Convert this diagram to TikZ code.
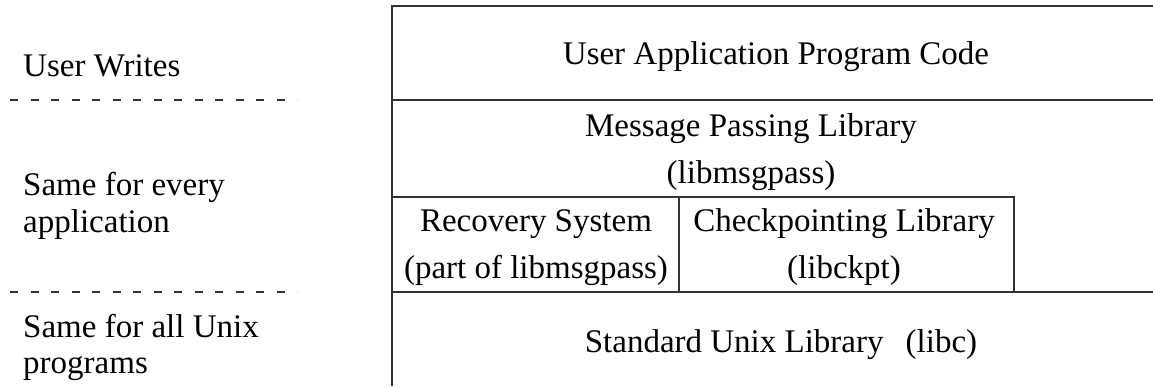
\documentclass[tikz,border=0pt]{standalone}
\usepackage{fontspec}
\setmainfont{Liberation Serif}
\begin{document}
\begin{tikzpicture}[x=1pt,y=1pt,
    layer/.style={line width=1.2pt, black!80},
    divider/.style={line width=1.2pt, black!80, dash pattern=on 8pt off 12.5pt},
    sidetext/.style={anchor=base west, align=left, inner sep=0pt, font=\fontsize{33}{36}\selectfont},
    layertext/.style={anchor=base, align=center, inner sep=0pt, font=\fontsize{33}{47}\selectfont}]
  \useasboundingbox (0,0) rectangle (1153,386);

  % Layer outlines
  \draw[layer] (1153,380) -- (392,380) -- (392,0);
  \draw[layer] (392,286) -- (1153,286);
  \draw[layer] (392,189) -- (1014,189) -- (1014,94);
  \draw[layer] (679,189) -- (679,94);
  \draw[layer] (392,94) -- (1153,94);

  % Dividers on the left
  \draw[divider] (10,286) -- (297,286);
  \draw[divider] (10,94) -- (297,94);

  % Left labels (base = last line)
  \node[sidetext] (writes) at (23,309) {User Writes};
  \node[sidetext] (every) at (23,154) {Same for every\\application};
  \node[sidetext] (unix) at (23,13) {Same for all Unix\\programs};

  % Layer texts
  \node[layertext] (app) at (776,321) {User Application Program Code};
  \node[layertext] (msg) at (751,202) {Message Passing Library\\(libmsgpass)};
  \node[layertext] (rec) at (536,108) {Recovery System\\(part of libmsgpass)};
  \node[layertext] (ckpt) at (844,108) {Checkpointing Library\\(libckpt)};
  \node[layertext] (libc) at (781,34) {Standard Unix Library\hspace{0.67em}(libc)};
\end{tikzpicture}
\end{document}
